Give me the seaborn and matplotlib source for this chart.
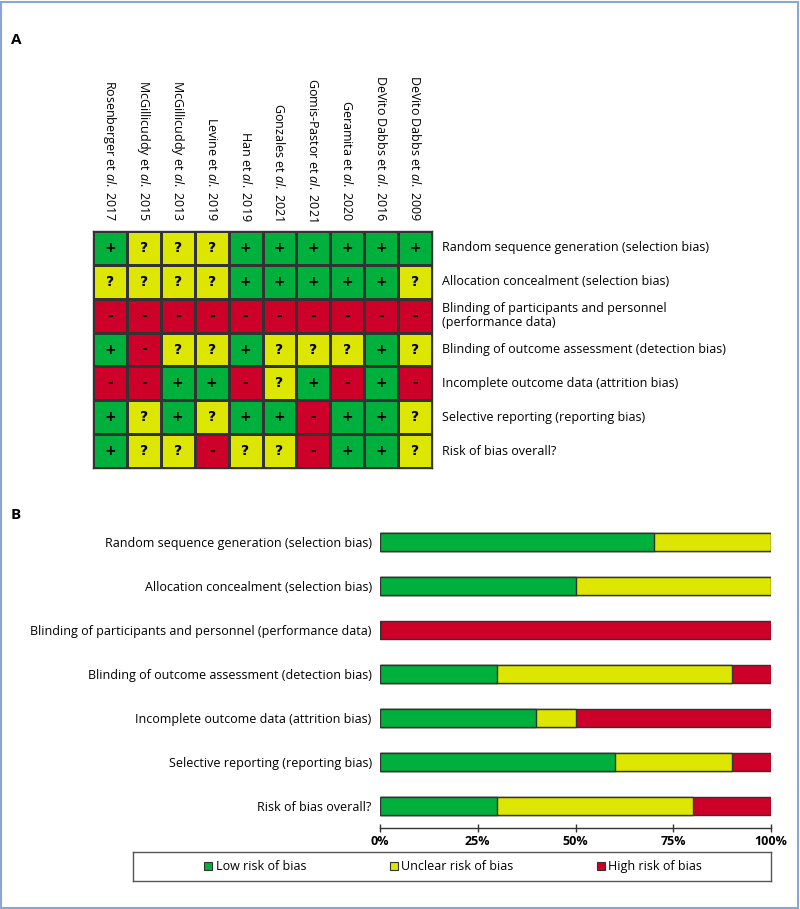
import numpy as np
import pandas as pd
import matplotlib
matplotlib.use('Agg')
import matplotlib.pyplot as plt
from matplotlib.colors import ListedColormap
from matplotlib.lines import Line2D
from matplotlib.patches import Rectangle
import seaborn as sns

# studies (columns of the summary grid)
studies = ['Rosenberger et $\\it{al.}$ 2017', 'McGillicuddy et $\\it{al.}$ 2015',
           'McGillicuddy et $\\it{al.}$ 2013', 'Levine et $\\it{al.}$ 2019',
           'Han et $\\it{al.}$ 2019', 'Gonzales et $\\it{al.}$ 2021',
           'Gomis-Pastor et $\\it{al.}$ 2021', 'Geramita et $\\it{al.}$ 2020',
           'DeVito Dabbs et $\\it{al.}$ 2016', 'DeVito Dabbs et $\\it{al.}$ 2009']

domains = ['Random sequence generation (selection bias)',
           'Allocation concealment (selection bias)',
           'Blinding of participants and personnel (performance data)',
           'Blinding of outcome assessment (detection bias)',
           'Incomplete outcome data (attrition bias)',
           'Selective reporting (reporting bias)',
           'Risk of bias overall?']

# judgements per domain: + low, ? unclear, - high
random_seq = ['+', '?', '?', '?', '+', '+', '+', '+', '+', '+']
allocation = ['?', '?', '?', '?', '+', '+', '+', '+', '+', '?']
blind_part = ['-', '-', '-', '-', '-', '-', '-', '-', '-', '-']
blind_outc = ['+', '-', '?', '?', '+', '?', '?', '?', '+', '?']
incomplete = ['-', '-', '+', '+', '-', '?', '+', '-', '+', '-']
selective = ['+', '?', '+', '?', '+', '+', '-', '+', '+', '?']
overall = ['+', '?', '?', '-', '?', '?', '-', '+', '+', '?']

levels = ['Low risk of bias', 'Unclear risk of bias', 'High risk of bias']

green = '#00b03c'
yellow = '#dce600'
red = '#cc0028'
edge = '#333333'

sns.set_theme(style='white')
plt.rcParams['font.family'] = ['Open Sans', 'DejaVu Sans']
plt.rcParams['text.color'] = 'black'
plt.rcParams['xtick.color'] = 'black'
plt.rcParams['ytick.color'] = 'black'
plt.rcParams['mathtext.fontset'] = 'custom'
plt.rcParams['mathtext.rm'] = 'Open Sans'
plt.rcParams['mathtext.it'] = 'Open Sans:italic'

symbols = pd.DataFrame([random_seq, allocation, blind_part, blind_outc,
                        incomplete, selective, overall],
                       index=domains, columns=studies)
codes = symbols.replace({'+': 0, '?': 1, '-': 2}).astype(int)

W, H = 800, 909
fig = plt.figure(figsize=(W / 100, H / 100), dpi=100)

def px_axes(x0, y0, x1, y1):
    return fig.add_axes([x0 / W, 1 - y1 / H, (x1 - x0) / W, (y1 - y0) / H])

# ---- A: traffic light grid
ax1 = px_axes(93, 231, 432, 468)
sns.heatmap(codes, cmap=ListedColormap([green, yellow, red]), vmin=-0.5, vmax=2.5,
            cbar=False, annot=symbols, fmt='', linewidths=1, linecolor=edge,
            annot_kws=dict(fontsize=10, fontweight='bold', color='black',
                           family=['DejaVu Sans']), ax=ax1)
ax1.xaxis.tick_top()
ax1.yaxis.tick_right()
ax1.set_xticklabels(studies, rotation=-90, fontsize=9, ha='center', va='bottom')
row_labels = [d.replace('personnel (', 'personnel\n(') for d in domains]
ax1.set_yticklabels(row_labels, rotation=0, fontsize=9, ha='left', va='center',
                    linespacing=1.1)
ax1.tick_params(length=0, pad=7)
ax1.set_xlabel('')
ax1.set_ylabel('')
for s in ax1.spines.values():
    s.set_visible(True)
    s.set_color(edge)
    s.set_linewidth(1)

# ---- B: stacked percentage bars
low = (symbols == '+').sum(axis=1) / len(studies) * 100
unclear = (symbols == '?').sum(axis=1) / len(studies) * 100
high = (symbols == '-').sum(axis=1) / len(studies) * 100
bars = pd.DataFrame({'domain': domains, 'low': low.values,
                     'low_unclear': (low + unclear).values,
                     'total': (low + unclear + high).values})

ax2 = px_axes(380, 520, 771, 828)
for col, c in [('total', red), ('low_unclear', yellow), ('low', green)]:
    sns.barplot(data=bars, x=col, y='domain', orient='h', color=c, saturation=1,
                width=0.41, edgecolor=edge, linewidth=1, ax=ax2)
ax2.set_xlim(0, 100)
ax2.set_xticks([0, 25, 50, 75, 100])
ax2.set_xticklabels(['0%', '25%', '50%', '75%', '100%'], fontweight='bold', fontsize=9)
ax2.tick_params(axis='x', direction='inout', length=6, width=1, color=edge, pad=2,
                bottom=True)
ax2.tick_params(axis='y', length=0, pad=6, labelsize=9)
ax2.set_xlabel('')
ax2.set_ylabel('')
for name, s in ax2.spines.items():
    s.set_visible(name == 'bottom')
ax2.spines['bottom'].set_color(edge)
ax2.spines['bottom'].set_linewidth(1)

# ---- legend box
ax3 = px_axes(133, 852, 771, 881)
ax3.set_xticks([])
ax3.set_yticks([])
for s in ax3.spines.values():
    s.set_color('#555555')
    s.set_linewidth(1)
handles = [Line2D([], [], marker='s', linestyle='', markersize=5.5,
                  markerfacecolor=c, markeredgecolor=edge, markeredgewidth=0.8)
           for c in (green, yellow, red)]
ax3.legend(handles, levels, loc='center', ncol=3, frameon=False, fontsize=9,
           handletextpad=0.1, columnspacing=6.5, handlelength=1.0)

# panel letters and outer border
fig.text(16 / W, 1 - 40 / H, 'A', fontsize=11, fontweight='bold', ha='center', va='center')
fig.text(16 / W, 1 - 515 / H, 'B', fontsize=11, fontweight='bold', ha='center', va='center')
fig.patches.append(Rectangle((0.001, 0.001), 0.997, 0.997, transform=fig.transFigure,
                             fill=False, edgecolor='#8aa6d6', linewidth=1.5))

fig.savefig('out.png', dpi=100)
